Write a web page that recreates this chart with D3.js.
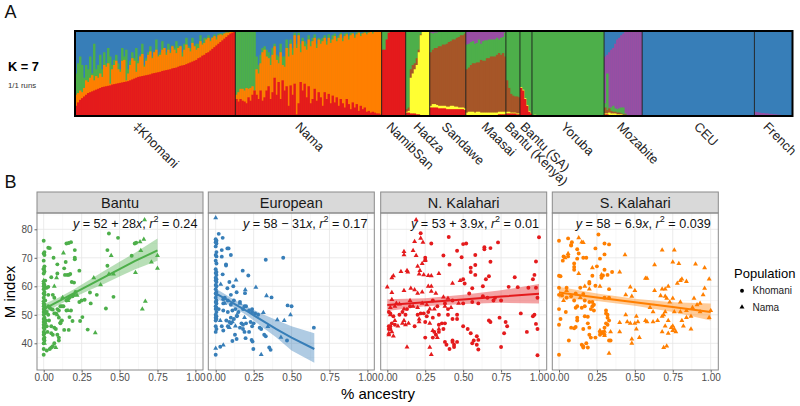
<!DOCTYPE html>
<html><head><meta charset="utf-8">
<script src="https://cdn.jsdelivr.net/npm/d3@7"></script>
<style>html,body{margin:0;background:#fff}svg{display:block}text{font-family:"Liberation Sans",Arial,sans-serif}</style>
</head><body><svg id="c" width="800" height="406"></svg>
<script>
const setRed="#E41A1C",setBlue="#377EB8",setGreen="#4DAF4A",setPurple="#984EA3",setOrange="#FF7F00",setYellow="#FFFF33",setBrown="#A65628";

// ---- Panel A: admixture (cumulative tops per individual) ----
const populations=["‡Khomani","Nama","NamibSan","Hadza","Sandawe","Maasai","Bantu (Kenya)","Bantu (SA)","Yoruba","Mozabite","CEU","French"];
const individuals=[80,73,12,12,18,20,7,6,36,19,56,19];
const khomaniRed=[.12,.16,.19,.21,.23,.25,.27,.28,.29,.30,.31,.32,.33,.34,.345,.35,.355,.36,.37,.375,.38,.385,.39,.395,.40,.405,.41,.42,.43,.44,.45,.46,.465,.47,.475,.48,.485,.49,.50,.505,.51,.515,.52,.53,.535,.54,.545,.55,.56,.565,.57,.58,.59,.595,.60,.61,.62,.63,.64,.65,.66,.68,.69,.71,.72,.74,.75,.77,.79,.81,.83,.85,.87,.89,.91,.93,.95,.97,.98,.99];
const khomaniOrange=[.25,.27,.30,.28,.33,.42,.40,.45,.48,.42,.47,.45,.50,.46,.60,.58,.62,.38,.55,.60,.65,.55,.52,.65,.66,.42,.50,.60,.68,.65,.52,.62,.70,.73,.58,.65,.72,.76,.68,.75,.78,.70,.72,.78,.80,.72,.78,.74,.82,.78,.74,.80,.82,.70,.78,.84,.80,.76,.86,.82,.78,.80,.88,.84,.86,.90,.92,.88,.92,.94,.90,.95,.96,.95,.97,.98,.98,.99,.99,1];
const khomaniGreen=[.5,.62,.7,.6,.45,.6,.55,.7,.5,.85,.55,.6,.72,.55,.75,.62,.8,.7,.6,.66,.72,.62,.55,.8,.7,.78,.55,.65,.75,.68,.8,.65,.72,.85,.6,.68,.75,.82,.7,.76,.9,.72,.75,.88,.8,.75,.85,.76,.83,.8,.88,.82,.83,.75,.85,.92,.82,.8,.92,.83,.85,.85,.95,.86,.92,.92,.95,.9,.93,.96,.93,.97,.97,.97,.98,.99,.99,1,1,1];
const namaRed=[.2,.17,.2,.18,.17,.15,.22,.18,.25,.3,.25,.2,.3,.18,.22,.3,.35,.2,.28,.45,.25,.4,.2,.42,.3,.35,.12,.36,.25,.38,.02,.15,.4,.3,.38,.22,.35,.15,.2,.32,.18,.28,.22,.12,.28,.2,.26,.15,.24,.16,.22,.12,.2,.15,.1,.2,.14,.08,.16,.1,.14,.06,.12,.08,.1,.05,.06,.04,.05,.04,.03,.03,.02];
const namaOrange=[.25,.28,.32,.32,.3,.33,.32,.33,.35,.3,.55,.5,.62,.75,.78,.7,.68,.6,.72,.82,.66,.62,.75,.6,.58,.8,.7,.85,.72,.95,.8,.95,.75,.88,.82,.78,.9,.82,.88,.92,.8,.9,.85,.88,.92,.84,.92,.86,.9,.94,.88,.92,.96,.88,.94,.96,.9,.95,.97,.92,.96,.98,.94,.97,.98,.96,.98,.99,.97,.99,1,1,1];
const namaGreen=[1,1,1,1,1,1,1,1,1,1,.7,.6,.72,.8,.82,.78,.75,.7,.8,.85,.72,.7,.85,.7,.7,.9,.8,.9,.8,.98,.85,.98,.85,.92,.88,.85,.95,.88,.92,.96,.85,.92,.9,.92,.95,.88,.96,.9,.95,.97,.92,.95,.98,.92,.97,.98,.94,.98,.98,.95,.98,.99,.97,.98,.99,.98,.99,1,1,1,1,1,1];
const namibRed=[.78,.78,.9,.98,1,1,1,1,1,1,1,1];
const hadzaRed=[.04,.04,.03,.03,.03,.02,.02,0,0,0,0,0];
const hadzaYellow=[.05,.06,.45,.5,.55,.6,.75,.95,1,1,1,1];
const hadzaBrown=[.08,.1,.55,.6,.62,.68,.78,.96,1,1,1,1];
const sandaweRed=[.1,.1,.1,.1,.09,.09,.09,.09,.08,.08,.08,.08,.08,.08,.08,.08,.08,.07];
const sandaweYellow=[.12,.14,.14,.13,.12,.12,.12,.12,.11,.11,.12,.12,.11,.11,.1,.1,.1,.09];
const sandaweBrown=[.75,.78,.8,.8,.82,.82,.84,.84,.85,.87,.88,.9,.9,.92,.93,.95,.95,.97];
const sandaweGreen=[.98,.97,.98,.98,.99,.99,1,1,1,1,1,1,1,1,1,1,1,1];
const maasaiRed=[.01,.01,.01,.01,.01,.01,.01,.01,.01,.01,.01,.01,.01,.01,.01,.01,.02,.02,.02,.02];
const maasaiYellow=[.04,.05,.05,.05,.04,.05,.05,.04,.04,.04,.04,.04,.04,.04,.04,.04,.05,.05,.05,.05];
const maasaiBrown=[.55,.57,.6,.62,.62,.63,.63,.66,.65,.65,.68,.68,.7,.7,.7,.72,.74,.72,.74,.7];
const maasaiGreen=[.84,.85,.87,.88,.85,.86,.9,.85,.88,.89,.89,.9,.9,.9,.9,.92,.9,.92,.93,.98];
const kenyaRed=[.03,.03,.03,.03,.03,.02,.02];
const kenyaYellow=[.05,.05,.04,.04,.04,.03,.03];
const kenyaBrown=[.42,.33,.26,.24,.23,.23,.22];
const saRed=[.33,.3,.2,.12,.05,.03];
const saYellow=[.34,.31,.21,.13,.06,.03];
const yorubaYellow=[.01,.015,.01,.01,.01,.01,.01,.01,.01,.005,.005];
const mozRed=[.02,.02,.01,.01,.01,.01,.01,.01];
const mozYellow=[.03,.03,.04,.03,.03,.03,.02,.02,.02,.01,.01,.01,.01];
const mozBrown=[.1,.07,.09,.06,.05,.05,.04,.04,.03,.02,.02,.01,.01];
const mozGreen=[.15,.5,.1,.1,.12,.09,.08,.09,.1,.1,.03,.01,.01];
const mozPurple=[.7,.72,.75,.78,.8,.85,.9,.92,.95,.97,1,1,1,1,1,1,1,1,1];
const ceuBrown=[.01,.01,.01,.01,.01,.01,.01,.005,.005,.005];
const frenchPurple=[.05,.045,.04,.035,.035,.03,.03,.025,.025,.02,.02,.015,.015,.01,.01,.01,.005,.005,0];
const layers=[
 [setBlue,[[setGreen,khomaniGreen],[setOrange,khomaniOrange],[setRed,khomaniRed]]],
 [setBlue,[[setGreen,namaGreen],[setOrange,namaOrange],[setRed,namaRed]]],
 [setGreen,[[setRed,namibRed]]],
 [setGreen,[[setBrown,hadzaBrown],[setYellow,hadzaYellow],[setRed,hadzaRed]]],
 [setPurple,[[setGreen,sandaweGreen],[setBrown,sandaweBrown],[setYellow,sandaweYellow],[setRed,sandaweRed]]],
 [setPurple,[[setGreen,maasaiGreen],[setBrown,maasaiBrown],[setYellow,maasaiYellow],[setRed,maasaiRed]]],
 [setGreen,[[setBrown,kenyaBrown],[setYellow,kenyaYellow],[setRed,kenyaRed]]],
 [setGreen,[[setYellow,saYellow],[setRed,saRed]]],
 [setGreen,[[setYellow,yorubaYellow]]],
 [setBlue,[[setPurple,mozPurple],[setGreen,mozGreen],[setBrown,mozBrown],[setYellow,mozYellow],[setRed,mozRed]]],
 [setBlue,[[setBrown,ceuBrown]]],
 [setBlue,[[setPurple,frenchPurple]]]
];

// ---- Panel B: scatter values [ancestry, M index] ----
const facets=["Bantu","European","N. Kalahari","S. Kalahari"];
const bantuKhomani=[[0,76],[.005,72],[0,71.5],[.005,71],[0,69],[.005,67],[0,66],[.005,65.2],[0,64.5],[.01,62],[0,61],[.005,60.5],[0,60],[.01,59.5],[0,59],[.005,58],[0,57.5],[.005,57],[0,56],[.01,55],[0,54],[.005,53.5],[0,53],[.01,52.5],[0,52],[.005,51.5],[0,51],[.01,50.5],[0,50],[.005,49],[0,48.5],[.005,48],[0,47.5],[.01,47],[0,46.5],[.005,46],[0,45.5],[.005,45],[0,44],[.005,43.5],[0,43],[.005,42],[0,41.5],[.005,41],[0,40],[0,38],[0,36],[.03,73.5],[.04,73.4],[.065,70],[.09,67.7],[.05,63.2],[.09,64.5],[.145,68.5],[.15,75],[.165,75.2],[.18,75.5],[.205,72.7],[.205,70],[.205,69.5],[.135,66.3],[.14,64],[.155,64],[.165,64],[.175,64.3],[.235,65.5],[.185,61.5],[.2,61.3],[.43,78.5],[.49,77],[.42,72.7],[.42,67.2],[.58,70.7],[.6,75],[.61,75.3],[.46,56.3],[.41,52.2],[.35,57],[.305,57.8],[.31,54],[.27,55.3],[.25,55],[.235,54.5],[.29,44.8],[.24,47.8],[.255,49.2],[.19,47.8],[.17,49.2],[.165,44.7],[.135,44.7],[.03,53],[.04,52.5],[.05,52],[.06,51.8],[.07,50.5],[.08,50.5],[.09,52],[.1,51.5],[.11,53],[.12,53],[.15,55],[.16,55.5],[.17,56],[.19,56.5],[.21,58],[.06,57],[.07,56],[.02,59.5],[.03,59.8],[.03,57],[.035,48],[.05,46],[.07,45.5],[.08,45],[.05,43.5],[.06,43],[.09,43],[.1,42],[.1,41],[.06,39],[.05,38.5],[.04,38],[.02,37.5],[.07,40],[.11,47],[.12,48],[.1,49],[.15,51.5],[.18,51.5],[.13,53],[.2,57],[.02,51],[.03,50],[.015,48],[.02,46],[.025,44]];
const bantuNama=[[.13,71.7],[.085,63],[.445,70.8],[.43,64.3],[.46,64.3],[.33,63],[.375,60.5],[.635,75.6],[.66,76.5],[.64,72.5],[.605,64.8],[.75,70.8],[.71,68.5],[.75,66.3],[.67,54.7],[.65,52],[.34,43.7],[.665,83.3],[.125,56],[.07,60],[.08,38.5],[.16,51.5],[.22,56.8],[.09,50],[.0,66.5],[.0,62],[.0,55],[.01,48],[.11,47.5],[.005,40],[.16,55]];
const euroKhomani=[[.02,78.4],[.046,77],[0,76.5],[.005,76],[0,75.5],[.005,75],[0,74],[.005,72],[0,71],[.005,70.5],[0,69],[.005,68],[0,66],[.005,65],[0,64.7],[.005,64],[0,63],[.005,62.5],[0,62],[.005,61.5],[0,60.5],[.005,60],[0,59],[.005,58],[0,57.5],[.005,57],[0,56],[.005,55],[0,54.5],[.005,54],[0,53],[.005,52.5],[0,52],[.005,51],[0,50],[.005,49.5],[0,49],[.005,48.5],[0,48],[0,46],[.005,45],[0,44],[.04,72.7],[.077,73.3],[.085,73.3],[.04,70.4],[.1,71],[.068,67.7],[.068,67.3],[.33,69.3],[.445,70],[.178,65.5],[.215,63.8],[.046,64.2],[.09,61.5],[.116,60],[.077,59.3],[.138,57.9],[.193,57.6],[.1,57],[.06,56],[.05,55.5],[.08,55],[.368,56.1],[.474,53.3],[.5,53],[.647,45.5],[.47,41],[.353,38.5],[.362,37.7],[.248,38],[0,36],[.03,38.8],[.11,40.8],[.138,41.5],[.197,41.8],[.127,43],[.237,41.2],[.243,40.6],[.02,52],[.05,51.5],[.08,51],[.11,51.5],[.13,52],[.15,51],[.18,52],[.2,53],[.22,51.5],[.24,51],[.26,50.5],[.14,49.5],[.1,49],[.12,48.5],[.09,47.5],[.1,47],[.07,48],[.17,47],[.18,46.5],[.16,45.5],[.18,45],[.2,47],[.23,47.5],[.25,47],[.24,46],[.29,45.5],[.3,45],[.32,43],[.33,42.5],[.22,44],[.04,46],[.05,44.5],[.19,44],[.1,53.5],[.05,54],[.12,55],[.16,54.5],[.19,53],[.24,52],[.28,50],[.08,46]];
const euroNama=[[0,84],[.134,62.2],[.033,60.7],[.195,58.8],[.265,59.6],[.335,56.7],[.493,50],[.452,48],[.406,48.2],[.314,50.8],[.43,42.1],[.344,45.9],[.3,36],[0,38.2],[.05,39.4],[.13,46],[.09,45.5],[.11,47.5],[.03,48],[.06,54],[.14,50],[.19,49],[.16,54]];
const nKhomani=[[.22,78.6],[.405,77.3],[.29,75],[.5,74.8],[.52,75],[.64,73.7],[.64,73],[.68,73.4],[.73,75.4],[.46,72.5],[.37,70.8],[.58,71],[.49,70.2],[.25,70],[.68,68.6],[.41,67.6],[.98,68.7],[1,77.2],[.55,66.5],[.58,67.5],[.55,65],[.58,64],[.67,63.5],[.65,62.5],[.5,62.5],[.51,61],[.84,63.2],[.96,62.5],[.97,64],[.8,59.8],[.86,59.7],[.93,59.5],[.98,59.5],[.56,59.3],[.63,60],[.54,57.5],[.63,56.5],[.66,56],[.71,56],[.88,50.5],[.96,49.5],[.97,50],[.99,56],[.98,46.8],[.78,47.5],[.79,46],[.74,49],[.67,48],[.68,47.5],[.5,46],[.53,45],[.55,43.5],[.59,42.5],[.92,44],[.99,45],[.77,43.5],[.75,38.7],[.99,35.8],[.6,41.2],[.57,41],[.56,40],[.43,41],[.43,40.5],[.46,40.5],[.38,40.5],[.39,39.5],[.41,38],[.44,39.5],[.44,38.7],[.59,39.5],[.6,37.8],[.3,42],[.32,43],[.25,42],[.37,45],[.36,47],[.38,47],[.34,46.5],[.31,44],[.4,50],[.46,50],[.43,48.5],[.46,48.5],[.4,52],[.3,49],[.34,50],[.27,51],[.1,51],[.13,52],[.08,50],[.01,51],[.02,50.5],[.04,49.5],[.01,45],[.01,46],[.02,45],[.02,46],[.03,47],[.2,50],[.22,50.5],[.24,50.5],[.26,49.5],[.25,47.5],[.18,46],[.33,53],[.3,55],[.38,54],[.43,55],[.5,54],[.56,54.5],[.6,54],[.7,55],[.75,55],[.15,53],[.12,50],[.05,46.5],[.34,44]];
const nNama=[[.19,83.3],[.22,76.8],[.18,75.7],[.235,75.4],[.17,72.5],[.11,72.2],[.11,71],[.19,70.8],[.25,69.5],[.25,69],[.23,68],[.2,67],[.13,65.5],[.09,65.2],[.135,65],[.215,65.5],[.04,63.7],[.21,64.3],[.24,64],[.27,63.8],[.29,63.7],[.34,64.5],[.29,60],[.43,61],[.03,63],[0,59.7],[.03,57.8],[.11,58.5],[.155,59.3],[.18,58.8],[.2,57.5],[.23,58],[.29,58.2],[.27,60],[.32,57.5],[.37,56.2],[.4,55.8],[.03,55.3],[.06,54],[.08,53.8],[.15,55],[.11,52],[.17,53],[.2,52.5],[.23,54],[.26,53.5],[.28,52],[.31,52],[.38,53],[.42,52.5],[.47,54],[.02,50],[.05,48],[.1,47],[.11,48],[.14,47],[.07,46],[.03,44],[.01,43],[.04,42.5],[.21,47.5],[.21,48.5],[.3,44.5],[.28,47],[.34,45],[.33,42],[.13,38.7],[.28,38.6],[.29,36],[.48,62],[.01,43.5],[.12,46.5],[.02,52.5],[.05,53]];
const sKhomani=[[0,36],[0,76],[.06,76.8],[.085,75.5],[.08,74.5],[.08,74.3],[.26,78.2],[.3,75],[.33,74.7],[.24,73.3],[.12,73],[.13,71.5],[.06,70.5],[.03,70.5],[.16,70],[.12,69.7],[.18,70],[.3,71.2],[.27,69.7],[.025,69],[.1,68],[.1,66.8],[.25,67],[.3,65.8],[.1,65.8],[.35,65],[.32,64],[.29,63.8],[.28,63],[.22,63.7],[0,63.7],[.01,63.5],[.2,61.5],[.2,61],[.24,60.2],[0,59.5],[.05,59.5],[.14,59.5],[.33,59],[.11,57.5],[.16,57.3],[.08,56.5],[0,57],[.02,56.8],[.05,56],[.1,55],[.3,56],[.33,56],[.17,55],[.2,54.5],[.22,54.5],[.23,53.5],[.22,53],[.11,52.5],[.12,53],[.15,52.5],[.17,53],[.21,52],[.23,51.5],[0,52],[.045,51],[.01,48.5],[.12,49],[.17,49.5],[.19,49.3],[.12,48],[.31,51.5],[.31,50.5],[.32,50],[.32,49],[.33,48],[.31,47],[.32,46.5],[.19,47],[.2,45.5],[.08,45.5],[.1,45.3],[.11,45.7],[.16,45],[.2,43],[.21,42],[.24,42],[.27,43],[.27,44],[.28,43.5],[.3,45.5],[.29,44],[.33,41],[.34,41],[0,46.5],[.065,41],[.18,40],[.15,39.5],[.16,39],[.16,38.5],[.19,38.5],[.3,43]];
const sNama=[[.13,77],[.15,75.5],[.16,75.3],[.435,71],[.68,72.7],[.76,72.7],[.75,68.5],[.79,68],[.9,67.8],[.96,66.5],[.63,67.5],[.22,66.5],[.4,65],[.57,62.8],[.58,62.8],[.99,62.5],[.81,62.5],[.8,62],[.84,61.7],[.78,61],[.72,60],[.68,59],[.7,59],[.96,59.3],[.47,59.7],[.5,58.5],[.63,58.5],[.95,57],[.44,57],[.48,56.5],[.67,56.7],[.7,56.5],[.71,55.8],[.89,55.8],[.75,55.8],[.73,54.5],[.8,54.5],[.93,54],[.91,53.5],[.88,52.5],[.6,52.5],[.7,51],[.62,51],[.76,51],[.8,51],[.84,51.5],[.93,51],[1,51.5],[.44,50],[.51,49.5],[.87,49.5],[.84,49],[.81,48],[.99,49],[.68,49.5],[.69,50],[.72,48],[.57,48],[.58,47.5],[.62,47.5],[.65,48],[.45,47.5],[.47,47],[.5,47],[.52,47.5],[.4,47.3],[.7,46],[.75,46],[.74,45.5],[.51,45],[.87,45],[.75,44.5],[.77,44],[.72,43.5],[.68,44],[.34,44],[.4,44],[.53,42],[.48,41.5],[.48,40],[.69,38.5],[.71,39],[.33,36.5],[.27,44.5],[.3,44.2],[.3,42.7],[.76,45],[.82,46],[.05,58.5],[.03,55],[.14,56],[.17,60],[.2,59],[.06,71.5],[.04,70],[.13,64.5],[.28,64],[.27,60]];
const fitX=[[0,.1,.2,.3,.4,.5,.6,.75],[0,.1,.2,.3,.4,.5,.65],[0,.25,.5,.75,1],[0,.25,.5,.75,1]];
const fitY=[[52,54.8,57.6,60.4,63.2,66,68.8,72.6],[57.5,54.5,51.5,48.2,45,42,38],[53.4,54.4,55.4,56.4,57.4],[57.8,56.1,54.4,52.7,51]];
const fitLo=[[50.3,53.5,56.2,58.6,60.9,63.4,65.9,69],[55.8,53.2,50,46,42,37.5,33.2],[51.3,53,53.8,54.2,54],[55.8,54.8,53.2,51,48]];
const fitHi=[[53.7,56.1,59,62.2,65.5,68.6,71.7,76.8],[59.2,56,53,50.5,48.2,46,43.5],[55.5,55.8,57,58.6,60.8],[59.8,57.5,55.6,54.4,54]];
const eqA=["52 + 28","58 − 31","53 + 3.9","58 − 6.9"];
const eqR=["0.24","0.17","0.01","0.039"];
const facetColors=[setGreen,setBlue,setRed,setOrange];
const khomaniPts=[bantuKhomani,euroKhomani,nKhomani,sKhomani];
const namaPts=[bantuNama,euroNama,nNama,sNama];
const xTicks=[0,.25,.5,.75,1];
const yTicks=[40,50,60,70,80];

const svg=d3.select("#c");
const fontName="Liberation Sans";

// ---------- A ----------
const total=d3.sum(individuals);
const bx=d3.scaleLinear().domain([0,total]).range([75,792.5]);
const by=d3.scaleLinear().domain([0,1]).range([116,31]);
const starts=Array.from(d3.cumsum([0,...individuals]));
const gA=svg.append("g");
populations.forEach((p,i)=>{
  const s=starts[i], n=individuals[i];
  gA.append("rect").attr("x",bx(s)).attr("y",by(1)).attr("width",bx(s+n)-bx(s)).attr("height",by(0)-by(1)).attr("fill",layers[i][0]);
  layers[i][1].forEach(([col,arr])=>{
    gA.selectAll(null).data(arr).join("rect")
      .attr("x",(d,k)=>bx(s+k)).attr("width",(d,k)=>bx(s+k+1)-bx(s+k)+.4)
      .attr("y",d=>by(d)).attr("height",d=>by(0)-by(d)).attr("fill",col);
  });
  if(i>0) gA.append("line").attr("x1",bx(s)).attr("x2",bx(s)).attr("y1",by(1)).attr("y2",by(0)).attr("stroke","#1a1a1a").attr("stroke-width",.9);
});
gA.append("rect").attr("x",75).attr("y",31).attr("width",717.5).attr("height",85).attr("fill","none").attr("stroke","#000").attr("stroke-width",2);
const labelDx=[-23,-14,-8,-5,-7,-5,-9,-6.5,-8,-7,-5,-11];
populations.forEach((p,i)=>{
  const mid=bx(starts[i]+individuals[i]/2)+labelDx[i];
  svg.append("text").attr("transform",`translate(${mid},${127.5}) rotate(45)`).attr("font-size",13).attr("fill","#222").text(p);
});
svg.append("text").attr("x",4.5).attr("y",18).attr("font-size",18).attr("fill","#111").text("A");
svg.append("text").attr("x",4.5).attr("y",188).attr("font-size",18).attr("fill","#111").text("B");
svg.append("text").attr("x",8).attr("y",71).attr("font-size",12.8).attr("font-weight","bold").attr("fill","#000").text("K = 7");
svg.append("text").attr("x",8).attr("y",87.5).attr("font-size",7.8).attr("fill","#333").text("1/1 runs");

// ---------- B ----------
const panelL=[37,208.3,380.7,552.3], panelW=166, pTop=213, pBot=370, stripTop=192;
const zero=[43.7,215.7,387.3,559], unit=151.7;
const y=d3.scaleLinear().domain([40,80]).range([343.3,229.3]);
const minorY=[35,45,55,65,75,85], minorX=[.125,.375,.625,.875];
const circ=d3.symbol().type(d3.symbolCircle).size(12);
const tri=d3.symbol().type(d3.symbolTriangle).size(10.5);
facets.forEach((f,i)=>{
  const g=svg.append("g");
  const x=d3.scaleLinear().domain([0,1]).range([zero[i],zero[i]+unit]);
  const L=panelL[i],R=L+panelW;
  minorY.forEach(v=>g.append("line").attr("x1",L).attr("x2",R).attr("y1",y(v)).attr("y2",y(v)).attr("stroke","#f0f0f0").attr("stroke-width",.5));
  minorX.forEach(v=>g.append("line").attr("y1",pTop).attr("y2",pBot).attr("x1",x(v)).attr("x2",x(v)).attr("stroke","#f0f0f0").attr("stroke-width",.5));
  yTicks.forEach(v=>g.append("line").attr("x1",L).attr("x2",R).attr("y1",y(v)).attr("y2",y(v)).attr("stroke","#e6e6e6").attr("stroke-width",.8));
  xTicks.forEach(v=>g.append("line").attr("y1",pTop).attr("y2",pBot).attr("x1",x(v)).attr("x2",x(v)).attr("stroke","#e6e6e6").attr("stroke-width",.8));
  const col=facetColors[i];
  g.selectAll(null).data(khomaniPts[i]).join("path").attr("d",circ).attr("fill",col).attr("transform",d=>`translate(${x(d[0])},${y(d[1])})`);
  g.selectAll(null).data(namaPts[i]).join("path").attr("d",tri).attr("fill",col).attr("transform",d=>`translate(${x(d[0])},${y(d[1])})`);
  const idx=d3.range(fitX[i].length);
  g.append("path").attr("fill",col).attr("fill-opacity",.4)
   .attr("d",d3.area().x(k=>x(fitX[i][k])).y0(k=>y(fitLo[i][k])).y1(k=>y(fitHi[i][k]))(idx));
  g.append("path").attr("fill","none").attr("stroke",col).attr("stroke-width",2)
   .attr("d",d3.line().x(k=>x(fitX[i][k])).y(k=>y(fitY[i][k]))(idx));
  // strip
  g.append("rect").attr("x",L).attr("y",stripTop).attr("width",panelW).attr("height",pTop-stripTop).attr("fill","#d9d9d9").attr("stroke","#8a8a8a").attr("stroke-width",1);
  g.append("text").attr("x",L+panelW/2).attr("y",208).attr("text-anchor","middle").attr("font-size",14.5).attr("fill","#1a1a1a").text(f);
  g.append("rect").attr("x",L).attr("y",pTop).attr("width",panelW).attr("height",pBot-pTop).attr("fill","none").attr("stroke","#8a8a8a").attr("stroke-width",1);
  // x axis
  const ax=g.append("g").attr("transform",`translate(0,${pBot})`).call(d3.axisBottom(x).tickValues(xTicks).tickFormat(d3.format(".2f")).tickSize(2.5).tickPadding(1));
  ax.select(".domain").remove();
  ax.selectAll("line").attr("stroke","#666");
  ax.selectAll("text").attr("font-size",10).attr("fill","#4d4d4d").style("font-family",fontName);
  if(i===0){
    const ay=g.append("g").attr("transform",`translate(${L},0)`).call(d3.axisLeft(y).tickValues(yTicks).tickSize(2.5).tickPadding(2));
    ay.select(".domain").remove();
    ay.selectAll("line").attr("stroke","#666");
    ay.selectAll("text").attr("font-size",10).attr("fill","#4d4d4d").style("font-family",fontName);
  }
  // equation
  const t=g.append("text").attr("x",x(1)+(i==0?2:0)).attr("y",228).attr("text-anchor","end").attr("font-size",12.6).attr("fill","#111");
  t.append("tspan").attr("font-style","italic").text("y");
  t.append("tspan").text(" = "+eqA[i]);
  t.append("tspan").attr("font-style","italic").text("x");
  t.append("tspan").text(", ");
  t.append("tspan").attr("font-style","italic").text("r");
  t.append("tspan").attr("font-size",9).attr("dy",-6).text("2");
  t.append("tspan").attr("dy",6).text(" = "+eqR[i]);
});
svg.append("text").attr("transform","translate(15,292) rotate(-90)").attr("text-anchor","middle").attr("font-size",15).attr("fill","#000").text("M index");
svg.append("text").attr("x",378).attr("y",398.5).attr("text-anchor","middle").attr("font-size",15).attr("fill","#000").text("% ancestry");
svg.append("text").attr("x",734).attr("y",278).attr("font-size",13).attr("fill","#000").text("Population");
svg.append("path").attr("d",circ).attr("fill","#000").attr("transform","translate(742,290.7)");
svg.append("path").attr("d",tri).attr("fill","#000").attr("transform","translate(742,307)");
svg.append("text").attr("x",752.5).attr("y",294).attr("font-size",10).attr("fill","#222").text("Khomani");
svg.append("text").attr("x",752.5).attr("y",310.5).attr("font-size",10).attr("fill","#222").text("Nama");
</script></body></html>
